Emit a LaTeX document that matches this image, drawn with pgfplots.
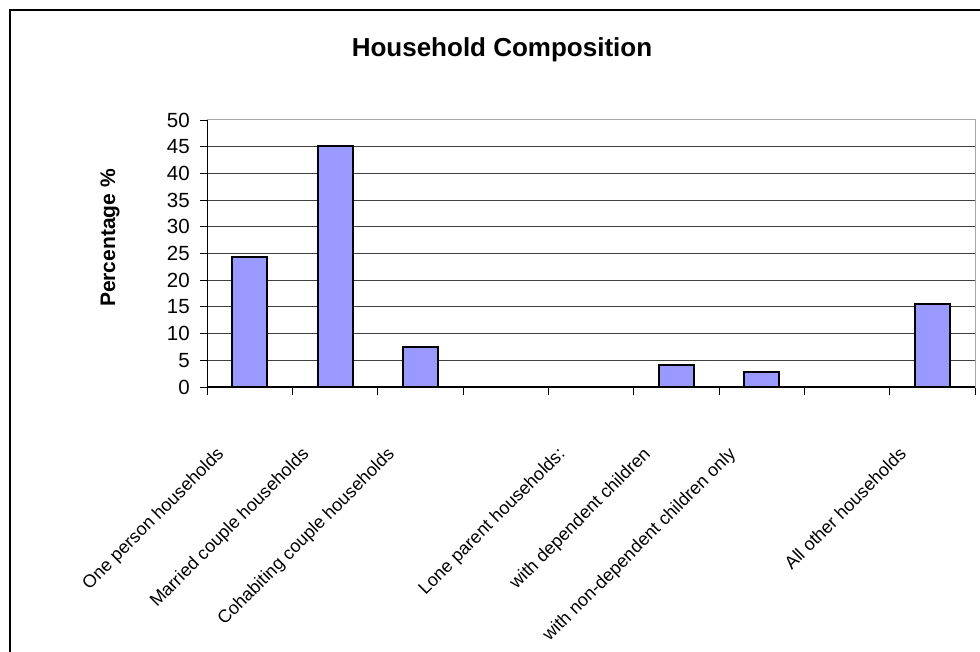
\documentclass[border=0pt]{standalone}
\usepackage{pgfplots}
\pgfplotsset{compat=1.18}
\usepackage{fontspec}
\setmainfont{Liberation Sans}
\definecolor{barfill}{HTML}{9999FF}
\begin{document}
\begin{tikzpicture}[x=1pt,y=1pt]
\useasboundingbox (0,0) rectangle (980,651);
\draw[black, line width=1.3pt] (10,-10) rectangle (995,641);
\node[font=\fontsize{26}{30}\selectfont\bfseries, anchor=base, inner sep=0] at (502,594) {Household Composition};
\node[font=\fontsize{21}{25}\selectfont\bfseries, rotate=90, inner sep=0] at (110,413) {Percentage \%};
\begin{axis}[
  at={(207pt,264pt)}, anchor=south west,
  scale only axis, width=768pt, height=267pt,
  ymin=0, ymax=50, ytick={0,5,...,50},
  xmin=-0.5, xmax=8.5,
  xtick={0,...,8},
  xticklabels={One person households, Married couple households, Cohabiting couple households, {}, Lone parent households:, with dependent children, with non-dependent children only, {}, All other households},
  minor xtick={-0.5,0.5,...,8.5},
  major x tick style={draw=none},
  minor x tick style={black, line width=0.9pt},
  y tick style={black, line width=0.9pt},
  tick align=outside,
  major tick length=7pt, minor tick length=8pt,
  xtick pos=bottom, ytick pos=left,
  ymajorgrids, grid style={black!75, line width=1pt},
  axis line style={draw=gray!70, line width=1pt},
  /pgf/number format/assume math mode=true,
  yticklabel style={font=\fontsize{20.5}{24}\selectfont, inner sep=0pt, anchor=east, xshift=-10pt},
  xticklabel style={font=\fontsize{18}{21}\selectfont, xshift=-25pt, yshift=-61pt, rotate=45, anchor=base east, inner sep=0pt},
  ybar, bar width=35pt,
]
\addplot[fill=barfill, draw=black, line width=2pt] coordinates {(0,24.3) (1,45.2) (2,7.5) (5,4.2) (6,2.9) (8,15.6)};
\draw[black, line width=1.1pt] (rel axis cs:0,0) -- (rel axis cs:0,1);
\draw[black, line width=1.1pt] (rel axis cs:0,0) -- (rel axis cs:1,0);
\end{axis}
\end{tikzpicture}
\end{document}
